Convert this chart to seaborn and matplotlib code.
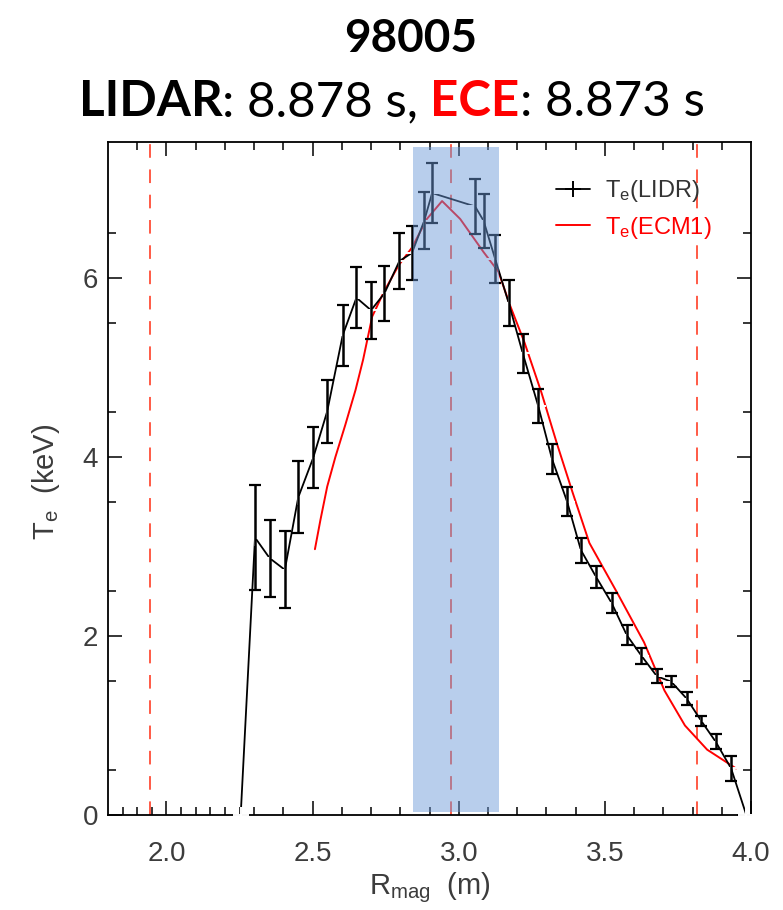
import numpy as np
import pandas as pd
import seaborn as sns
import matplotlib
matplotlib.use("Agg")
import matplotlib.pyplot as plt
from matplotlib.lines import Line2D

# --- LIDAR electron temperature profile (R in m, Te in keV) ---
lidar_r = [2.254, 2.303, 2.353, 2.405, 2.451, 2.502, 2.550, 2.603, 2.650, 2.700,
           2.746, 2.797, 2.840, 2.882, 2.909, 3.056, 3.085, 3.125, 3.171, 3.219,
           3.272, 3.319, 3.371, 3.418, 3.470, 3.523, 3.575, 3.625, 3.678, 3.727,
           3.780, 3.830, 3.879, 3.932, 3.984]
lidar_te = [0.00, 3.10, 2.87, 2.74, 3.55, 3.99, 4.51, 5.36, 5.78, 5.64,
            5.83, 6.19, 6.28, 6.64, 6.95, 6.80, 6.64, 6.21, 5.72, 5.16,
            4.57, 3.98, 3.50, 2.96, 2.66, 2.37, 2.01, 1.78, 1.55, 1.49,
            1.30, 1.05, 0.82, 0.52, 0.00]
lidar_err = [np.nan, 0.59, 0.43, 0.43, 0.40, 0.34, 0.35, 0.34, 0.34, 0.32,
             0.31, 0.31, 0.30, 0.32, 0.34, 0.31, 0.30, 0.27, 0.26, 0.22,
             0.19, 0.17, 0.16, 0.14, 0.12, 0.11, 0.11, 0.09, 0.08, 0.06,
             0.07, 0.06, 0.08, 0.14, np.nan]

# --- ECE (ECM1) profile ---
ece_r = [2.508, 2.527, 2.550, 2.578, 2.612, 2.647, 2.673, 2.704, 2.743, 2.794,
         2.840, 2.891, 2.943, 3.005, 3.085, 3.136, 3.176, 3.225, 3.283, 3.336,
         3.389, 3.447, 3.541, 3.634, 3.704, 3.774, 3.850, 3.949]
ece_te = [2.97, 3.30, 3.67, 4.00, 4.36, 4.75, 5.09, 5.57, 5.84, 6.14,
          6.34, 6.66, 6.86, 6.66, 6.29, 6.07, 5.69, 5.28, 4.72, 4.15,
          3.61, 3.04, 2.49, 1.93, 1.39, 1.00, 0.73, 0.52]

# reference radii and highlighted core region
marker_r = [1.942, 2.974, 3.816]
core_band = [2.844, 3.138]

x_major = [2.0, 2.5, 3.0, 3.5, 4.0]
x_labels = ["2.0", "2.5", "3.0", "3.5", "4.0"]
y_major = [0, 2, 4, 6]
y_labels = ["0", "2", "4", "6"]

lidar = pd.DataFrame({"R": lidar_r, "Te": lidar_te, "err": lidar_err})
ece = pd.DataFrame({"R": ece_r, "Te": ece_te})

sns.set_theme(style="ticks")
plt.rcParams["font.family"] = ["Liberation Sans", "DejaVu Sans"]
plt.rcParams["mathtext.fontset"] = "custom"
plt.rcParams["mathtext.rm"] = "Liberation Sans"
plt.rcParams["mathtext.it"] = "Liberation Sans"

W, H = 783, 910
fig = plt.figure(figsize=(W / 100, H / 100), dpi=100)
fig.patch.set_facecolor("white")
ax = fig.add_axes([108 / W, 1 - 815 / H, (751 - 108) / W, (815 - 142) / H])
ax.set_facecolor("white")

# vertical dashed reference lines
for r in marker_r:
    ax.axvline(r, color="#ff5a45", lw=1.4, dashes=(7, 6), zorder=1)

# ECE trace
sns.lineplot(data=ece, x="R", y="Te", ax=ax, color="#ff0000", lw=1.4,
             estimator=None, sort=False, zorder=3, legend=False)

# LIDAR trace with '+' markers and error bars
sns.lineplot(data=lidar, x="R", y="Te", ax=ax, color="black", lw=1.3,
             marker="+", markersize=11, markeredgewidth=1.4,
             estimator=None, sort=False, zorder=4, legend=False)
eb = lidar.dropna()
ax.errorbar(eb["R"], eb["Te"], yerr=eb["err"], fmt="none", ecolor="black",
            elinewidth=1.8, capsize=4, capthick=1.6, zorder=4)

# shaded core region drawn on top
ax.axvspan(core_band[0], core_band[1], ymin=0.004, ymax=0.992,
           color=(0.42, 0.60, 0.85), alpha=0.48, lw=0, zorder=6)

ax.set_xlim(1.8, 4.0)
ax.set_ylim(0, 7.52)

tick_col = "#3c3c3c"
ax.set_xticks(x_major)
ax.set_xticklabels(x_labels)
ax.set_yticks(y_major)
ax.set_yticklabels(y_labels)
x_minor = [1.85, 1.9, 1.95, 2.05, 2.1, 2.15, 2.2, 2.25, 2.3, 2.4,
           2.6, 2.7, 2.8, 2.9, 3.1, 3.2, 3.3, 3.4, 3.6, 3.7, 3.8, 3.9]
ax.set_xticks(x_minor, minor=True)
ax.set_yticks(np.arange(0.5, 7.5, 1.0), minor=True)

ax.tick_params(axis="both", which="both", direction="in", color="black",
               labelcolor=tick_col, labelsize=20, width=1.1)
ax.tick_params(axis="both", which="major", length=10)
ax.tick_params(axis="both", which="minor", length=5.5)
ax.tick_params(axis="x", which="major", pad=19)
ax.tick_params(axis="y", which="major", pad=7)
ax.tick_params(axis="y", which="both", left=True, right=True)
ax.tick_params(axis="x", which="both", bottom=True, top=False)

top = ax.secondary_xaxis("top")
top.set_xticks(x_major[:-1])
top.set_xticklabels([])
top.set_xticks([1.9] + [round(v, 1) for v in np.arange(2.1, 4.0, 0.1)
                        if abs(v * 2 - round(v * 2)) > 1e-6], minor=True)
top.tick_params(which="both", direction="in", color="black", width=1.1)
top.tick_params(which="major", length=10)
top.tick_params(which="minor", length=5.5)
top.spines["top"].set_visible(False)

for s in ax.spines.values():
    s.set_color("black")
    s.set_linewidth(1.3)

ax.set_xlabel(r"R$_{\rm mag}$  (m)", fontsize=21, color=tick_col, labelpad=2)
ax.set_ylabel(r"T$_{\rm e}$  (keV)", fontsize=21, color=tick_col, labelpad=14)
ax.yaxis.set_label_coords(-(108 - 62) / 643, (815 - 482) / 673)

handles = [Line2D([], [], color="black", lw=1.3, marker="+", markersize=11,
                  markeredgewidth=1.4),
           Line2D([], [], color="#ff0000", lw=1.4)]
leg = ax.legend(handles, [r"T$_{\rm e}$(LIDR)", r"T$_{\rm e}$(ECM1)"],
                loc="upper left", bbox_to_anchor=((556 - 108) / 643, (815 - 178) / 673),
                frameon=False, fontsize=17, handlelength=1.45, handletextpad=0.62,
                labelspacing=0.45, borderpad=0, borderaxespad=0)
leg.get_texts()[0].set_color("#333333")
leg.get_texts()[1].set_color("#ff0000")
leg.set_zorder(7)

# title block
title_font = ["Lato", "DejaVu Sans"]
fig.text(411 / W, 1 - 52 / H, "98005", ha="center", va="baseline",
         fontsize=33, fontweight="bold", family=title_font, color="black")

parts = [("LIDAR", "bold", "black"), (": 8.878 s,", "normal", "black"),
         (" ECE", "bold", "#ff0000"), (": 8.873 s", "normal", "black")]
texts = [fig.text(0, 1 - 116 / H, s, ha="left", va="baseline", fontsize=35.5,
                  fontweight=w, color=c, family=title_font) for s, w, c in parts]
fig.canvas.draw()
rend = fig.canvas.get_renderer()
widths = [t.get_window_extent(rend).width for t in texts]
x0 = (fig.bbox.width - sum(widths)) / 2
for t, w in zip(texts, widths):
    t.set_x(x0 / fig.bbox.width)
    x0 += w

fig.savefig("out.png", dpi=100, facecolor="white")
